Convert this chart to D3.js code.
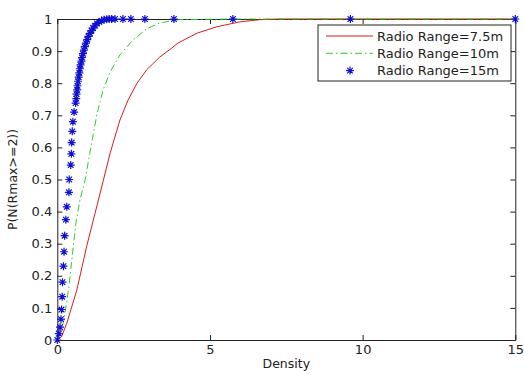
<!DOCTYPE html>
<html>
<head>
<meta charset="utf-8">
<script src="https://cdn.jsdelivr.net/npm/d3@7"></script>
<style>
  body { margin: 0; background: #fff; }
  text { font-family: "DejaVu Sans", sans-serif; }
</style>
</head>
<body>
<div id="chart"></div>
<script>
const width = 524;
const height = 375;

// Radio Range = 7.5m (solid red)
const redX = [0, 0.14, 0.31, 0.64, 0.96, 1.29, 1.51, 1.73, 2.05, 2.32, 2.61, 2.93, 3.36, 3.69, 3.95, 4.58, 5.23, 5.98, 6.64, 7.3, 9.6, 15];
const redY = [0, 0.01, 0.052, 0.156, 0.291, 0.415, 0.498, 0.582, 0.685, 0.748, 0.8, 0.842, 0.882, 0.905, 0.925, 0.956, 0.976, 0.991, 0.998, 1, 1, 1];

// Radio Range = 10m (green dash-dot)
const greenX = [0, 0.22, 0.38, 0.5, 0.61, 0.74, 0.91, 1.1, 1.3, 1.5, 1.73, 2.05, 2.48, 2.94, 3.36, 4.0, 5.75, 9.6, 15];
const greenY = [0, 0.062, 0.166, 0.271, 0.364, 0.436, 0.498, 0.601, 0.704, 0.779, 0.835, 0.888, 0.935, 0.97, 0.988, 0.998, 1, 1, 1];

// Radio Range = 15m (blue stars)
const blueX = [0, 0.05, 0.09, 0.12, 0.14, 0.16, 0.17, 0.2, 0.22, 0.24, 0.28, 0.31, 0.38, 0.39, 0.44, 0.46, 0.47, 0.49, 0.51, 0.55,
  0.6, 0.62, 0.63, 0.65, 0.66, 0.68, 0.7, 0.72, 0.74, 0.76, 0.79, 0.81, 0.84, 0.87, 0.9, 0.94, 0.98, 1.02, 1.07, 1.12,
  1.17, 1.23, 1.3, 1.37, 1.45, 1.53, 1.62, 1.7, 1.78, 1.89, 2.15, 2.41, 2.87, 3.82, 5.75, 9.6, 15];
const blueY = [0, 0.02, 0.04, 0.065, 0.095, 0.135, 0.18, 0.23, 0.275, 0.325, 0.375, 0.415, 0.46, 0.5, 0.545, 0.58, 0.615, 0.65, 0.68, 0.71,
  0.738, 0.752, 0.766, 0.779, 0.792, 0.806, 0.819, 0.832, 0.845, 0.857, 0.869, 0.88, 0.892, 0.903, 0.914, 0.925, 0.936, 0.946, 0.955, 0.964,
  0.972, 0.979, 0.986, 0.991, 0.995, 0.998, 0.999, 1, 1, 1, 1, 1, 1, 1, 1, 1, 1];

const xTicks = [0, 5, 10, 15];
const yTicks = [0, 0.1, 0.2, 0.3, 0.4, 0.5, 0.6, 0.7, 0.8, 0.9, 1];
const legendLabels = ["Radio Range=7.5m", "Radio Range=10m", "Radio Range=15m"];

const RED = "#d81c1c";
const GREEN = "#2ccc2c";
const BLUE = "#1010d0";

const svg = d3
  .select("#chart")
  .append("svg")
  .attr("width", width)
  .attr("height", height);

const x = d3.scaleLinear().domain([0, 15]).range([57.3, 515.3]);
const y = d3.scaleLinear().domain([0, 1]).range([340, 19]);

const toPoints = (xs, ys) => xs.map((v, i) => [v, ys[i]]);
const line = d3.line().x((d) => x(d[0])).y((d) => y(d[1]));

// asterisk marker like matlab '*'
function star(r) {
  const d = r * 0.7;
  return `M${-r},0H${r}M0,${-r}V${r}M${-d},${-d}L${d},${d}M${-d},${d}L${d},${-d}`;
}

// axes, ticks pointing inward on all four sides
function styleAxis(g) {
  g.selectAll("path.domain").attr("stroke", "#222");
  g.selectAll(".tick line").attr("stroke", "#222");
  g.selectAll(".tick text")
    .attr("fill", "#222")
    .style("font-family", "DejaVu Sans, sans-serif")
    .style("font-size", "13px");
}

svg.append("g")
  .attr("transform", `translate(0,${y(0)})`)
  .call(d3.axisBottom(x).tickValues(xTicks).tickFormat(d3.format("d")).tickSizeInner(-5).tickSizeOuter(0).tickPadding(5))
  .call(styleAxis);
svg.append("g")
  .attr("transform", `translate(0,${y(1)})`)
  .call(d3.axisTop(x).tickValues(xTicks).tickFormat("").tickSizeInner(-5).tickSizeOuter(0))
  .call(styleAxis);
svg.append("g")
  .attr("transform", `translate(${x(0)},0)`)
  .call(d3.axisLeft(y).tickValues(yTicks).tickFormat((d) => d3.format("~g")(d)).tickSizeInner(-5).tickSizeOuter(0).tickPadding(5))
  .call(styleAxis);
svg.append("g")
  .attr("transform", `translate(${x(15)},0)`)
  .call(d3.axisRight(y).tickValues(yTicks).tickFormat("").tickSizeInner(-5).tickSizeOuter(0))
  .call(styleAxis);

svg.append("text")
  .attr("x", (x(0) + x(15)) / 2)
  .attr("y", 368)
  .attr("text-anchor", "middle")
  .attr("fill", "#222")
  .style("font-size", "12.5px")
  .text("Density");

svg.append("text")
  .attr("transform", `translate(17,${(y(0) + y(1)) / 2}) rotate(-90)`)
  .attr("text-anchor", "middle")
  .attr("fill", "#222")
  .style("font-size", "12.5px")
  .text("P(N(Rmax>=2))");

// series
svg.append("path")
  .datum(toPoints(redX, redY))
  .attr("d", line)
  .attr("fill", "none")
  .attr("stroke", RED)
  .attr("stroke-width", 1);

svg.append("path")
  .datum(toPoints(greenX, greenY))
  .attr("d", line)
  .attr("fill", "none")
  .attr("stroke", GREEN)
  .attr("stroke-width", 1)
  .attr("stroke-dasharray", "7,3,1.5,3");

svg.append("g")
  .selectAll("path")
  .data(toPoints(blueX, blueY))
  .enter()
  .append("path")
  .attr("transform", (d) => `translate(${x(d[0])},${y(d[1])})`)
  .attr("d", star(4))
  .attr("fill", "none")
  .attr("stroke", BLUE)
  .attr("stroke-width", 1.2);

// legend
const legend = svg.append("g").attr("transform", "translate(318,25)");
legend.append("rect")
  .attr("width", 193)
  .attr("height", 56)
  .attr("fill", "#fff")
  .attr("stroke", "#222");

const rows = legend.selectAll("g.row")
  .data(legendLabels)
  .enter()
  .append("g")
  .attr("class", "row")
  .attr("transform", (d, i) => `translate(0,${11 + i * 17.3})`);

rows.append("text")
  .attr("x", 59)
  .attr("dy", "0.36em")
  .attr("fill", "#222")
  .style("font-size", "13px")
  .text((d) => d);

rows.filter((d, i) => i === 0).append("line")
  .attr("x1", 8).attr("x2", 55)
  .attr("stroke", RED);
rows.filter((d, i) => i === 1).append("line")
  .attr("x1", 8).attr("x2", 55)
  .attr("stroke", GREEN)
  .attr("stroke-dasharray", "7,3,1.5,3");
rows.filter((d, i) => i === 2).append("path")
  .attr("transform", "translate(32,0)")
  .attr("d", star(4))
  .attr("fill", "none")
  .attr("stroke", BLUE)
  .attr("stroke-width", 1.2);
</script>
</body>
</html>
